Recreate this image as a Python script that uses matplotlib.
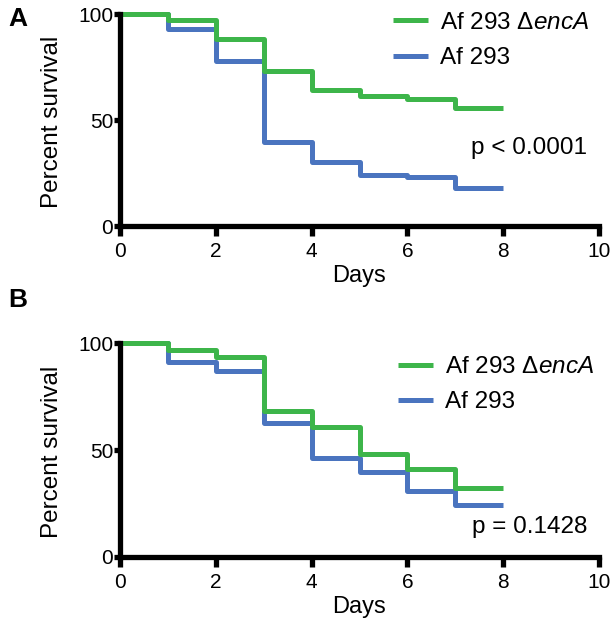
import matplotlib
matplotlib.use("Agg")
import matplotlib.pyplot as plt

plt.rcParams['font.family'] = ['Liberation Sans', 'DejaVu Sans']
plt.rcParams['mathtext.fontset'] = 'custom'
plt.rcParams['mathtext.rm'] = 'Liberation Sans'
plt.rcParams['mathtext.it'] = 'Liberation Sans:italic'

days = [0, 1, 2, 3, 4, 5, 6, 7, 8]

# Panel A
a_mutant = [100, 97, 88, 73, 64, 61.5, 60, 55.5, 55.5]
a_wt = [100, 93, 78, 39.5, 30, 24, 23, 18, 18]
a_p = "p < 0.0001"

# Panel B
b_mutant = [100, 97, 93.4, 68.3, 60.7, 48, 41, 32, 32]
b_wt = [100, 91.3, 87, 62.5, 46.4, 39.6, 30.8, 24.2, 24.2]
b_p = "p = 0.1428"

label_mut = 'Af 293 Δ$\\mathit{encA}$'
label_wt = 'Af 293'
xticks = [0, 2, 4, 6, 8, 10]
yticks = [0, 50, 100]

GREEN = '#3db54a'
BLUE = '#4a74bf'

fig = plt.figure(figsize=(6.16, 6.19), dpi=100)

W, H = 616, 619
def pos(l, r, t, b):
    return [l / W, 1 - b / H, (r - l) / W, (b - t) / H]

panels = [
    (pos(120, 599, 14, 226), a_mutant, a_wt, a_p, 'A', 18.5, (0.569, 0.875), (9.75, 36.6)),
    (pos(120, 599, 343.3, 556.7), b_mutant, b_wt, b_p, 'B', 300, (0.580, 0.806), (9.75, 14)),
]

for rect, mut, wt, ptxt, letter, ly, legpos, ppos in panels:
    ax = fig.add_axes(rect)
    ax.step(days, wt, where='post', color=BLUE, lw=3.6, label=label_wt,
            clip_on=False, solid_capstyle='butt', zorder=3)
    ax.step(days, mut, where='post', color=GREEN, lw=3.6, label=label_mut,
            clip_on=False, solid_capstyle='butt', zorder=4)
    ax.set_xlim(0, 10)
    ax.set_ylim(0, 100)
    ax.set_xticks(xticks)
    ax.set_yticks(yticks)
    for s in ['top', 'right']:
        ax.spines[s].set_visible(False)
    for s in ['left', 'bottom']:
        ax.spines[s].set_linewidth(3.8)
        ax.spines[s].set_zorder(5)
    ax.tick_params(axis='x', length=7, width=3.8, pad=4.5, labelsize=15, direction='out')
    ax.tick_params(axis='y', length=4, width=3.8, pad=1, labelsize=15, direction='out')
    ax.set_xlabel('Days', fontsize=17, labelpad=0)
    ax.set_ylabel('Percent survival', fontsize=17.5)
    ax.yaxis.set_label_coords(-0.12, 0.49)
    ax.xaxis.set_label_coords(0.5, -0.185)
    h, l = ax.get_legend_handles_labels()
    ax.legend(h[::-1], l[::-1], loc='center left', bbox_to_anchor=legpos,
              frameon=False, fontsize=17.5, handlelength=1.45, handletextpad=0.5,
              borderpad=0, borderaxespad=0, labelspacing=0.55)
    ax.text(ppos[0], ppos[1], ptxt, ha='right', va='center', fontsize=17.5)
    fig.text(17.5 / W, 1 - ly / H, letter, ha='center', va='center',
             fontsize=19, fontweight='bold')

fig.savefig('out.png', dpi=100)
